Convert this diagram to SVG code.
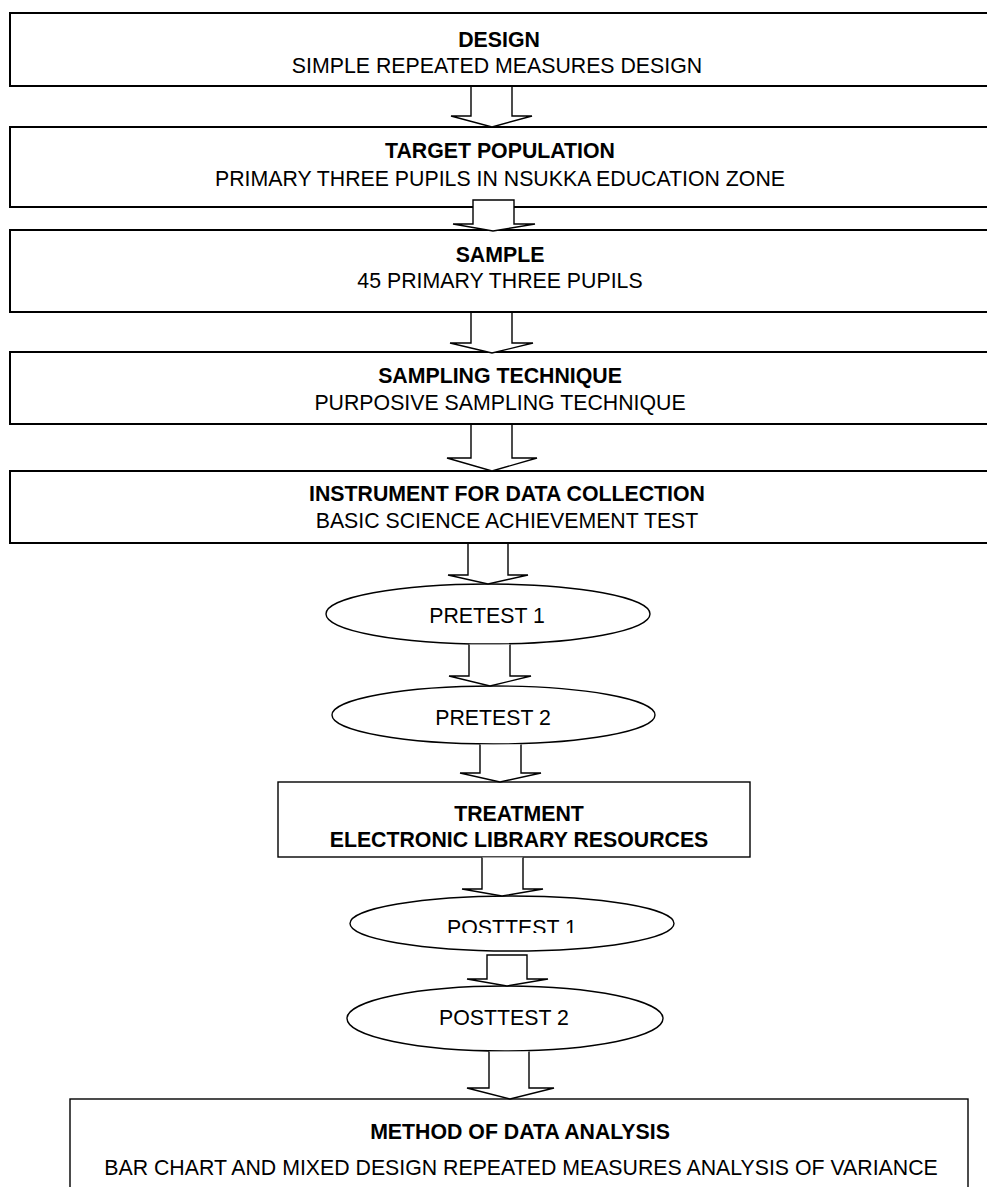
<svg xmlns="http://www.w3.org/2000/svg" width="987" height="1187" viewBox="0 0 987 1187">
<style>
.bx{fill:#fff;stroke:#000;stroke-width:2}
.bt{fill:#fff;stroke:#000;stroke-width:1.4}
.el{fill:#fff;stroke:#000;stroke-width:1.4}
.ar{fill:#fff;stroke:#000;stroke-width:1.4;stroke-linejoin:miter}
text{font-family:"Liberation Sans",Arial,sans-serif;font-size:21.3px;fill:#000;text-anchor:middle}
.b{font-weight:bold}
</style>
<defs>
<clipPath id="clipPT1"><rect x="300" y="900" width="400" height="33"/></clipPath>
</defs>
<rect x="0" y="0" width="987" height="1187" fill="#fff"/>
<g id="n-design">
<rect class="bx" x="10" y="13" width="1000" height="73"/>
<text class="b" x="499" y="47">DESIGN</text>
<text x="497" y="73">SIMPLE REPEATED MEASURES DESIGN</text>
</g>
<g id="n-population">
<rect class="bx" x="10" y="127" width="1000" height="80"/>
<text class="b" x="500" y="158">TARGET POPULATION</text>
<text x="500" y="186">PRIMARY THREE PUPILS IN NSUKKA EDUCATION ZONE</text>
</g>
<g id="n-sample">
<rect class="bx" x="10" y="230" width="1000" height="82"/>
<text class="b" x="500" y="262">SAMPLE</text>
<text x="500" y="288">45 PRIMARY THREE PUPILS</text>
</g>
<g id="n-technique">
<rect class="bx" x="10" y="352" width="1000" height="72"/>
<text class="b" x="500" y="383">SAMPLING TECHNIQUE</text>
<text x="500" y="410">PURPOSIVE SAMPLING TECHNIQUE</text>
</g>
<g id="n-instrument">
<rect class="bx" x="10" y="471" width="1000" height="72"/>
<text class="b" x="507" y="501">INSTRUMENT FOR DATA COLLECTION</text>
<text x="507" y="528">BASIC SCIENCE ACHIEVEMENT TEST</text>
</g>
<g id="n-pretest1">
<ellipse class="el" cx="488" cy="614" rx="162" ry="30"/>
<text x="487" y="623">PRETEST 1</text>
</g>
<g id="n-pretest2">
<ellipse class="el" cx="493.5" cy="715" rx="161.5" ry="29"/>
<text x="493" y="725">PRETEST 2</text>
</g>
<g id="n-treatment">
<rect class="bt" x="278" y="782" width="472" height="75"/>
<text class="b" x="519" y="821">TREATMENT</text>
<text class="b" x="519" y="847">ELECTRONIC LIBRARY RESOURCES</text>
</g>
<g id="n-posttest1">
<ellipse class="el" cx="512" cy="923.5" rx="162" ry="27.5"/>
<text x="512" y="935" clip-path="url(#clipPT1)">POSTTEST 1</text>
</g>
<g id="n-posttest2">
<ellipse class="el" cx="505" cy="1018.5" rx="158" ry="32.5"/>
<text x="504" y="1025">POSTTEST 2</text>
</g>
<g id="n-analysis">
<rect class="bt" x="70" y="1099" width="898" height="120"/>
<text class="b" x="520" y="1139">METHOD OF DATA ANALYSIS</text>
<text x="521" y="1175">BAR CHART AND MIXED DESIGN REPEATED MEASURES ANALYSIS OF VARIANCE</text>
</g>
<g id="connectors">
<path class="ar" d="M471,87 L471,116 L451,116 L492,127 L532,116 L512,116 L512,87"/>
<path class="ar" d="M473,200 L473,224 L453,224 L493,231 L535,224 L514,224 L514,200 Z"/>
<path class="ar" d="M471,313 L471,343 L450,343 L492,353 L533,343 L512,343 L512,313"/>
<path class="ar" d="M471,425 L471,458 L447,458 L492,471 L537,458 L512,458 L512,425"/>
<path class="ar" d="M468,544 L468,575 L448,575 L488,584 L528,575 L508,575 L508,544"/>
<path class="ar" d="M469,644.5 L469,676 L449,676 L490,686 L531,676 L510,676 L510,644.5"/>
<path class="ar" d="M480,744.5 L480,773 L460,773 L500,782 L541,773 L521,773 L521,744.5"/>
<path class="ar" d="M482,857.5 L482,889 L462,889 L502,896 L543,889 L523,889 L523,857.5"/>
<path class="ar" d="M487,955 L487,979 L467,979 L507,986 L548,979 L527,979 L527,955 Z"/>
<path class="ar" d="M489,1051.5 L489,1088 L467,1088 L510,1099 L554,1088 L529,1088 L529,1051.5"/>
</g>
</svg>
